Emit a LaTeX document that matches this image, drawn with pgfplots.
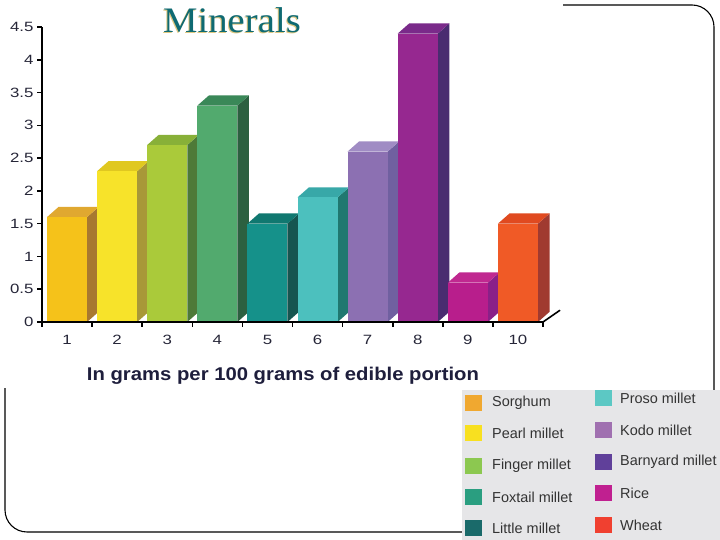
\documentclass[border=0pt]{standalone}
\usepackage{pgfplots}
\pgfplotsset{compat=1.18}
\usepackage{fontspec}
\setmainfont{Liberation Sans}
\newfontfamily\tickfont[FakeStretch=1.25]{Liberation Sans}
\newfontfamily\labfont[FakeStretch=1.1]{Liberation Sans}
\newfontfamily\titlefont[FakeStretch=1.08]{Liberation Serif}

% bar colours: front, side, top
\definecolor{f1}{HTML}{F5C21A}\definecolor{s1}{HTML}{A87830}\definecolor{t1}{HTML}{E0A830}
\definecolor{f2}{HTML}{F7E32A}\definecolor{s2}{HTML}{A89838}\definecolor{t2}{HTML}{E0C820}
\definecolor{f3}{HTML}{AACA3A}\definecolor{s3}{HTML}{4E7A38}\definecolor{t3}{HTML}{88B038}
\definecolor{f4}{HTML}{52AA6E}\definecolor{s4}{HTML}{2C6040}\definecolor{t4}{HTML}{3A8858}
\definecolor{f5}{HTML}{15918A}\definecolor{s5}{HTML}{165550}\definecolor{t5}{HTML}{107870}
\definecolor{f6}{HTML}{4CC0BE}\definecolor{s6}{HTML}{207870}\definecolor{t6}{HTML}{38A8A8}
\definecolor{f7}{HTML}{8C70B2}\definecolor{s7}{HTML}{7060A0}\definecolor{t7}{HTML}{A08CC4}
\definecolor{f8}{HTML}{962890}\definecolor{s8}{HTML}{4A2C70}\definecolor{t8}{HTML}{7A2A8A}
\definecolor{f9}{HTML}{B81E8C}\definecolor{s9}{HTML}{8A2088}\definecolor{t9}{HTML}{C02890}
\definecolor{f10}{HTML}{F05A26}\definecolor{s10}{HTML}{A03A30}\definecolor{t10}{HTML}{E04A20}
% legend colours
\definecolor{l1}{HTML}{F0A830}\definecolor{l2}{HTML}{F8E020}\definecolor{l3}{HTML}{8CC850}
\definecolor{l4}{HTML}{2A9E80}\definecolor{l5}{HTML}{1A6A6A}\definecolor{l6}{HTML}{5CC8C4}
\definecolor{l7}{HTML}{A070B0}\definecolor{l8}{HTML}{60409A}\definecolor{l9}{HTML}{C02090}
\definecolor{l10}{HTML}{F04030}
\definecolor{legbg}{HTML}{E6E6E8}
\definecolor{tickgray}{HTML}{262638}
\definecolor{labnavy}{HTML}{1E1E3C}
\definecolor{titleteal}{HTML}{0F6A72}
\definecolor{titleshadow}{HTML}{E0C880}

% #1 category index, #2 value, #3 front, #4 side, #5 top
\newcommand\tdbar[5]{%
  \pgfmathsetmacro\xa{#1-0.9}%
  \pgfmathsetmacro\xb{#1-0.1}%
  \pgfmathsetmacro\xc{#1+0.13}%
  \pgfmathsetmacro\xd{#1-0.67}%
  \pgfmathsetmacro\yt{#2+0.155}%
  \addplot[fill=#4,draw=none,mark=none] coordinates {(\xb,0) (\xc,0.155) (\xc,\yt) (\xb,#2)};
  \addplot[fill=#5,draw=none,mark=none] coordinates {(\xa,#2) (\xb,#2) (\xc,\yt) (\xd,\yt)};
  \addplot[fill=#3,draw=none,mark=none] coordinates {(\xa,0) (\xb,0) (\xb,#2) (\xa,#2)};
}

\begin{document}
\begin{tikzpicture}[x=1bp,y=1bp]
\useasboundingbox (0,0) rectangle (720,540);
\fill[white] (0,0) rectangle (720,540);
% slide frame
\draw[line width=1.1bp,rounded corners=22bp] (5,8) rectangle (714,535);
\fill[white] (0,152) rectangle (563,540);

\begin{axis}[
  at={(42bp,218bp)}, anchor=south west,
  scale only axis, width=501bp, height=295bp,
  xmin=0, xmax=10, ymin=0, ymax=4.5,
  axis x line=bottom, axis y line=left,
  axis line style={-, line width=2.6bp, black},
  axis on top, clip=false,
  tick align=outside,
  major tick length=5bp,
  tick style={line width=1.6bp, black},
  xtick={0,1,2,3,4,5,6,7,8,9,10}, xticklabels={},
  extra x ticks={0.5,1.5,2.5,3.5,4.5,5.5,6.5,7.5,8.5,9.5},
  extra x tick labels={1,2,3,4,5,6,7,8,9,10},
  extra x tick style={major tick length=0pt, xticklabel style={yshift=-10bp}},
  ytick={0,0.5,1,1.5,2,2.5,3,3.5,4,4.5},
  ticklabel style={font=\tickfont\fontsize{13.5}{15}\selectfont, text=tickgray},
  /pgf/number format/assume math mode=true,
]
\tdbar{1}{1.6}{f1}{s1}{t1}
\tdbar{2}{2.3}{f2}{s2}{t2}
\tdbar{3}{2.7}{f3}{s3}{t3}
\tdbar{4}{3.3}{f4}{s4}{t4}
\tdbar{5}{1.5}{f5}{s5}{t5}
\tdbar{6}{1.9}{f6}{s6}{t6}
\tdbar{7}{2.6}{f7}{s7}{t7}
\tdbar{8}{4.4}{f8}{s8}{t8}
\tdbar{9}{0.6}{f9}{s9}{t9}
\tdbar{10}{1.5}{f10}{s10}{t10}
\draw[line width=1.6bp] (axis cs:10,0) -- (axis cs:10.34,0.18);
\end{axis}

% title
\node[text=titleshadow,font=\titlefont\fontsize{36}{40}\selectfont] at (231,519) {Minerals};
\node[text=titleteal,font=\titlefont\fontsize{36}{40}\selectfont] at (232,520) {Minerals};
% x label
\node[text=labnavy,font=\labfont\bfseries\fontsize{18.5}{22}\selectfont] at (283,164) {In grams per 100 grams of edible portion};

% legend
\fill[legbg] (462,0) rectangle (720,150);
\begin{scope}[every node/.style={anchor=west,text=black!80,font=\fontsize{14.5}{17}\selectfont,inner sep=0pt}]
\fill[l1] (465,129) rectangle (482,145); \node at (492,137) {Sorghum};
\fill[l2] (465,99) rectangle (482,115);  \node at (492,107) {Pearl millet};
\fill[l3] (465,66) rectangle (482,82);   \node at (492,74) {Finger millet};
\fill[l4] (465,35) rectangle (482,51);   \node at (492,43) {Foxtail millet};
\fill[l5] (465,4) rectangle (482,20);    \node at (492,12) {Little millet};
\fill[l6] (595,134) rectangle (612,150); \node at (620,142) {Proso millet};
\fill[l7] (595,102) rectangle (612,118); \node at (620,110) {Kodo millet};
\fill[l8] (595,70) rectangle (612,86);   \node at (620,78) {Barnyard millet};
\fill[l9] (595,39) rectangle (612,55);   \node at (620,47) {Rice};
\fill[l10] (595,7) rectangle (612,23);   \node at (620,15) {Wheat};
\end{scope}
\end{tikzpicture}
\end{document}
